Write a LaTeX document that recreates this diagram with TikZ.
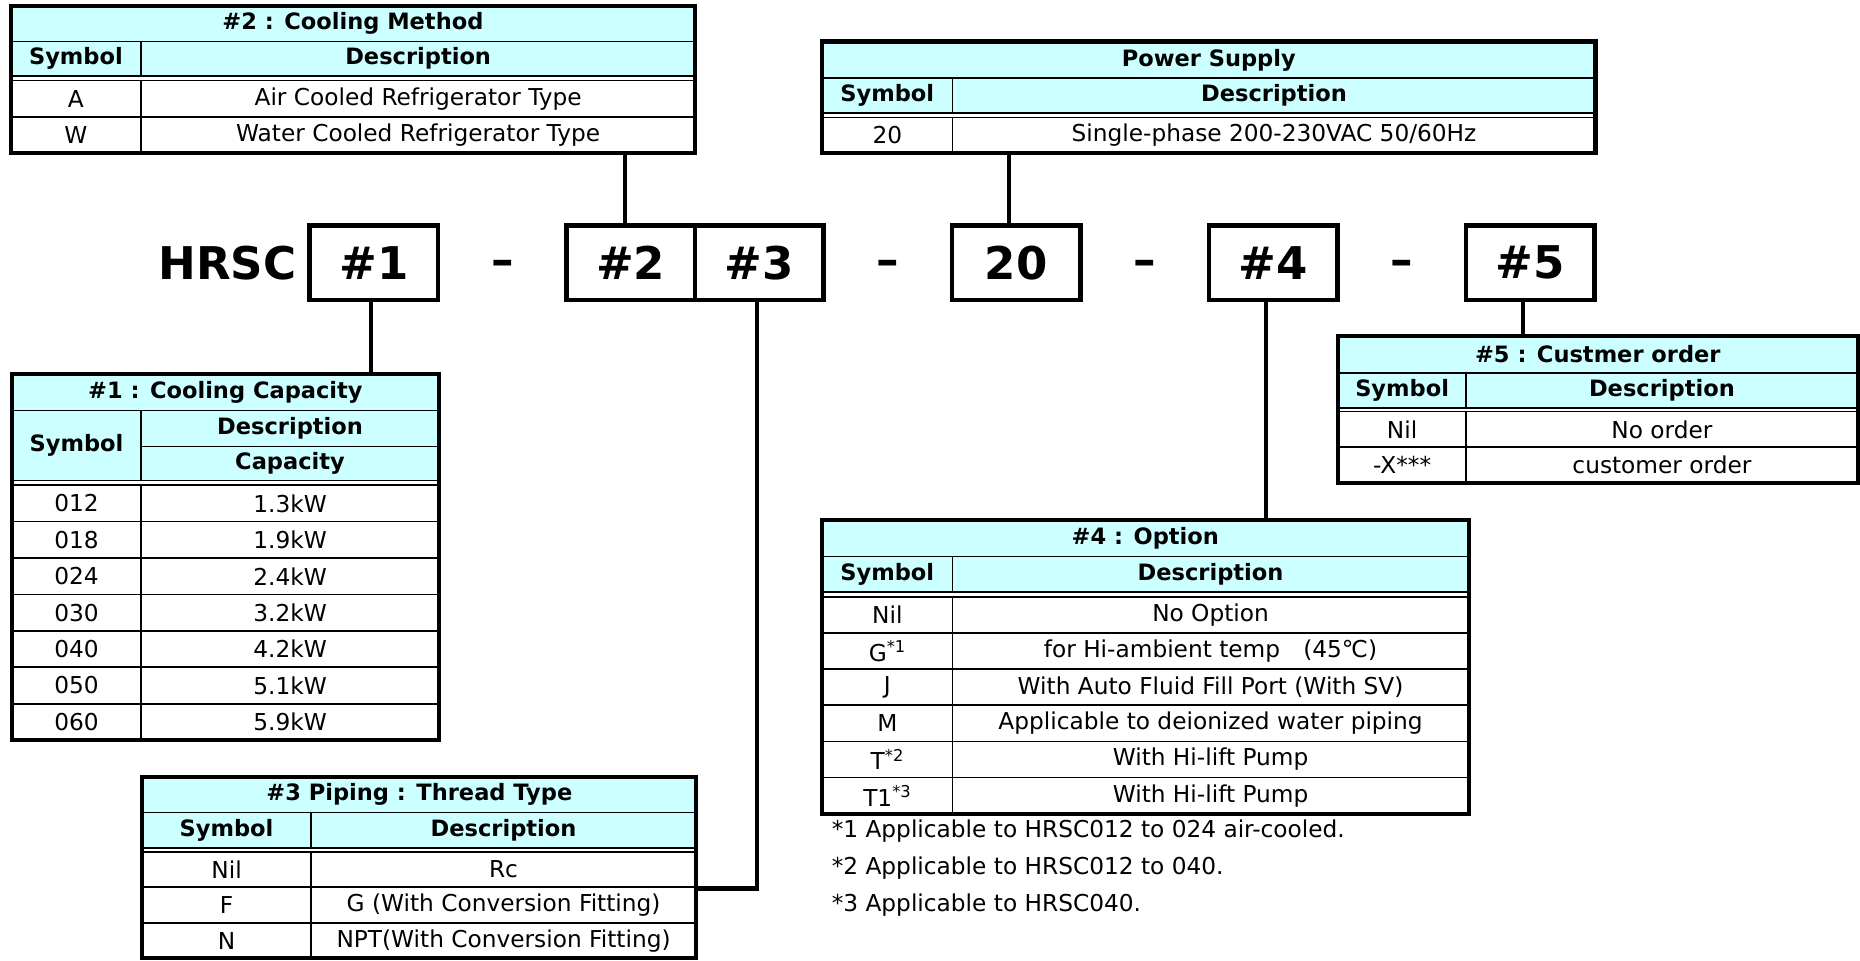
\documentclass[tikz,border=0pt]{standalone}
\usepackage{fontspec}
\setmainfont{DejaVu Sans}
\usetikzlibrary{positioning}
\definecolor{headcyan}{RGB}{204,255,255}
\newcommand{\bodyfont}{\fontsize{19.6}{22}\selectfont}
\newcommand{\headfont}{\bfseries\fontsize{19}{22}\selectfont}
\newcommand{\codefont}{\bfseries\fontsize{38}{40}\selectfont}
\tikzset{
	tcell/.style 2 args={draw,line width=1.4pt,inner sep=0pt,minimum width=#1,minimum height=#2,font=\bodyfont},
	thead/.style 2 args={tcell={#1}{#2},fill=headcyan,font=\headfont},
	tframe/.style 2 args={draw,line width=3.4pt,inner sep=0pt,minimum width=#1,minimum height=#2},
	codebox/.style={draw,line width=3.8pt,inner sep=0pt,outer sep=0pt,minimum width=108.3pt,minimum height=63pt,font=\codefont},
	codedash/.style={inner sep=0pt,outer sep=0pt,minimum width=108.3pt,minimum height=63pt,text height=21pt,text depth=0pt,font=\codefont},
	codetext/.style={inner sep=0pt,font=\codefont},
	link/.style={line width=3.4pt},
	fnote/.style={anchor=west,inner sep=0pt,font=\bodyfont}
}

\begin{document}
\begin{tikzpicture}[x=1pt,y=-1pt]
	\useasboundingbox (0,0) rectangle (1568,810);
	% model code
	\node[codebox] (b1) at (315.15,221.5) {\#1};
	\node[codetext,left=11pt of b1] (hrsc) {HRSC};
	\node[codedash,right=0pt of b1] (d1) {\textendash};
	\node[codebox,right=0pt of d1] (b2) {\#2};
	\node[codebox,right=0pt of b2] (b3) {\#3};
	\node[codedash,right=0pt of b3] (d2) {\textendash};
	\node[codebox,right=0pt of d2] (b20) {20};
	\node[codedash,right=0pt of b20] (d3) {\textendash};
	\node[codebox,right=0pt of d3] (b4) {\#4};
	\node[codedash,right=0pt of b4] (d4) {\textendash};
	\node[codebox,right=0pt of d4] (b5) {\#5};

	% #2 : Cooling Method
	\node[thead={577pt}{30pt}] (t2t) at (297.5,20) {\#2 : Cooling Method};
	\node[thead={110pt}{29pt}] (t2s) at (64,49.5) {Symbol};
	\node[thead={467pt}{29pt}] (t2d) at (352.5,49.5) {Description};
	\foreach \sy/\de [count=\i from 0] in {A/Air Cooled Refrigerator Type,W/Water Cooled Refrigerator Type}{
		\node[tcell={110pt}{30.5pt}] (t2s\i) at (64,{83.25+30.5*\i}) {\sy};
		\node[tcell={467pt}{30.5pt}] (t2d\i) at (352.5,{83.25+30.5*\i}) {\de};
	}
	\node[tframe={577pt}{124pt}] (t2) at (297.5,67) {};

	% Power Supply
	\node[thead={652pt}{31pt}] (tpt) at (1019,50.5) {Power Supply};
	\node[thead={110pt}{29pt}] (tps) at (748,80.5) {Symbol};
	\node[thead={542pt}{29pt}] (tpd) at (1074,80.5) {Description};
	\node[tcell={110pt}{30pt}] (tps0) at (748,114) {20};
	\node[tcell={542pt}{30pt}] (tpd0) at (1074,114) {Single-phase 200-230VAC 50/60Hz};
	\node[tframe={652pt}{94pt}] (tp) at (1019,82) {};

	% #1 : Cooling Capacity
	\node[thead={360pt}{31pt}] (t1t) at (190,330.5) {\#1 : Cooling Capacity};
	\node[thead={109pt}{59pt}] (t1s) at (64.5,375.5) {Symbol};
	\node[thead={251pt}{30.5pt}] (t1d) at (244.5,361.25) {Description};
	\node[thead={251pt}{28.5pt}] (t1c) at (244.5,390.75) {Capacity};
	\foreach \sy/\de [count=\i from 0] in {012/1.3kW,018/1.9kW,024/2.4kW,030/3.2kW,040/4.2kW,050/5.1kW,060/5.9kW}{
		\node[tcell={109pt}{30.7pt}] (t1s\i) at (64.5,{424.35+30.7*\i}) {\sy};
		\node[tcell={251pt}{30.7pt}] (t1c\i) at (244.5,{424.35+30.7*\i}) {\de};
	}
	\node[tframe={360pt}{309pt}] (t1) at (190,469.5) {};

	% #3 Piping : Thread Type
	\node[thead={467pt}{30pt}] (t3t) at (353.5,670) {\#3 Piping : Thread Type};
	\node[thead={142pt}{30pt}] (t3s) at (191,700) {Symbol};
	\node[thead={325pt}{30pt}] (t3d) at (424.5,700) {Description};
	\foreach \sy/\de [count=\i from 0] in {Nil/Rc,F/G (With Conversion Fitting),N/NPT(With Conversion Fitting)}{
		\node[tcell={142pt}{30pt}] (t3s\i) at (191,{733+30*\i}) {\sy};
		\node[tcell={325pt}{30pt}] (t3d\i) at (424.5,{733+30*\i}) {\de};
	}
	\node[tframe={467pt}{153pt}] (t3) at (353.5,731.5) {};

	% #4 : Option
	\node[thead={545pt}{31pt}] (t4t) at (965.5,453.5) {\#4 : Option};
	\node[thead={110pt}{30pt}] (t4s) at (748,484) {Symbol};
	\node[thead={435pt}{30pt}] (t4d) at (1020.5,484) {Description};
	\foreach \sy/\de [count=\i from 0] in {Nil/No Option,G\textsuperscript{*1}/for Hi-ambient temp\quad(45℃),J/With Auto Fluid Fill Port (With SV),M/Applicable to deionized water piping,T\textsuperscript{*2}/With Hi-lift Pump,T1\textsuperscript{*3}/With Hi-lift Pump}{
		\node[tcell={110pt}{30.5pt}] (t4s\i) at (748,{518.25+30.5*\i}) {\sy};
		\node[tcell={435pt}{30.5pt}] (t4d\i) at (1020.5,{518.25+30.5*\i}) {\de};
	}
	\node[tframe={545pt}{248pt}] (t4) at (965.5,562) {};
	\node[fnote] (n1) at (701,701) {*1 Applicable to HRSC012 to 024 air-cooled.};
	\node[fnote] (n2) at (701,732) {*2 Applicable to HRSC012 to 040.};
	\node[fnote] (n3) at (701,763) {*3 Applicable to HRSC040.};

	% #5 : Custmer order
	\node[thead={438pt}{31.5pt}] (t5t) at (1347,298.75) {\#5 : Custmer order};
	\node[thead={108pt}{29.5pt}] (t5s) at (1182,329.25) {Symbol};
	\node[thead={330pt}{29.5pt}] (t5d) at (1401,329.25) {Description};
	\foreach \sy/\de [count=\i from 0] in {Nil/No order,-X***/customer order}{
		\node[tcell={108pt}{30pt}] (t5s\i) at (1182,{362+30*\i}) {\sy};
		\node[tcell={330pt}{30pt}] (t5d\i) at (1401,{362+30*\i}) {\de};
	}
	\node[tframe={438pt}{124pt}] (t5) at (1347,345) {};

	% links
	\draw[link] ([xshift=-2pt]b1.south) -- ([xshift=-2pt]b1.south |- t1.north);
	\draw[link] ([xshift=-5pt]b2.north) -- ([xshift=-5pt]b2.north |- t2.south);
	\draw[link] ([xshift=-2pt]b3.south) |- ([yshift=-17.5pt]t3.east);
	\draw[link] ([xshift=-6pt]b20.north) -- ([xshift=-6pt]b20.north |- tp.south);
	\draw[link] ([xshift=-6pt]b4.south) -- ([xshift=-6pt]b4.south |- t4.north);
	\draw[link] ([xshift=-6pt]b5.south) -- ([xshift=-6pt]b5.south |- t5.north);
\end{tikzpicture}
\end{document}
